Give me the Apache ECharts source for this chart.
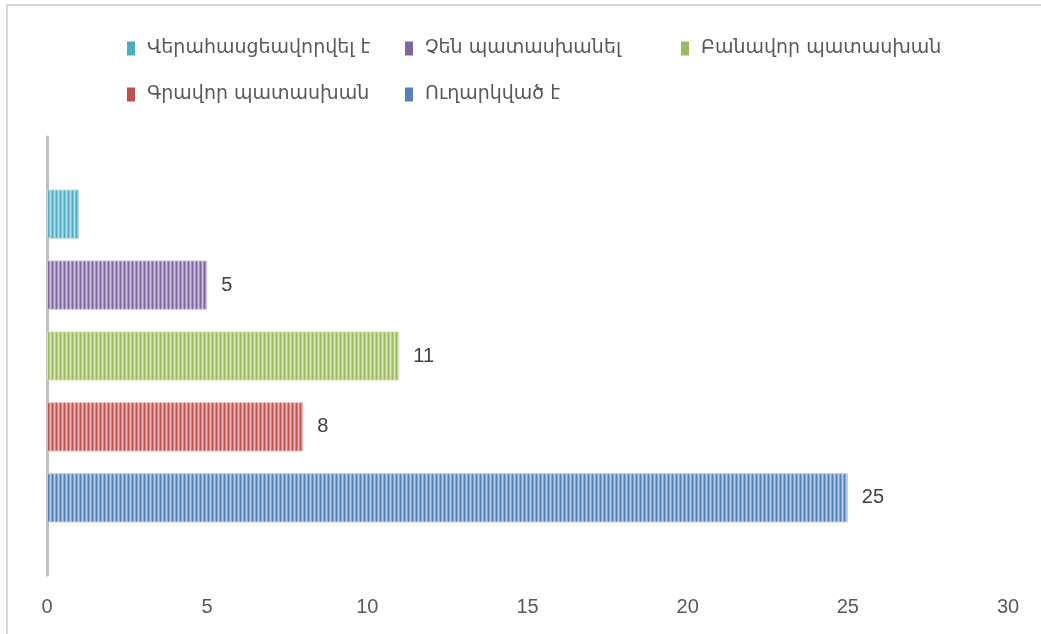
<!DOCTYPE html>
<html>
<head>
<meta charset="utf-8">
<script src="https://cdn.jsdelivr.net/npm/echarts@6/dist/echarts.min.js"></script>
<style>
html,body{margin:0;padding:0;background:#fff;}
#chart{width:1041px;height:634px;}
</style>
</head>
<body>
<div id="chart"></div>
<script>
// ---- data ----
const categories = [''];
const seriesNames = ['Վերահասցեավորվել է', 'Չեն պատասխանել', 'Բանավոր պատասխան', 'Գրավոր պատասխան', 'Ուղարկված է'];
const seriesValues = [1, 5, 11, 8, 25];
const showLabel = [false, true, true, true, true];
const xTicks = [0, 5, 10, 15, 20, 25, 30];

// ---- styles ----
const baseColors = ['#4BACC6', '#8064A2', '#9BBB59', '#C0504D', '#4F81BD'];
const lightColors = ['#B7DEE8', '#CCC1DA', '#D7E4BD', '#E6B9B8', '#B9CDE5'];
const legendPos = [
  {left: 122, top: 34}, {left: 400, top: 34}, {left: 676, top: 34},
  {left: 122, top: 80}, {left: 400, top: 80}
];

function stripePattern(base, light) {
  const c = document.createElement('canvas');
  c.width = 4; c.height = 1;
  const ctx = c.getContext('2d');
  ctx.fillStyle = base; ctx.fillRect(0, 0, 4, 1);
  ctx.fillStyle = light; ctx.fillRect(2, 0, 1, 1);
  ctx.globalAlpha = 0.5; ctx.fillRect(1, 0, 1, 1); ctx.fillRect(3, 0, 1, 1);
  return {image: c, repeat: 'repeat'};
}

const chart = echarts.init(document.getElementById('chart'));
const labelFont = 'Liberation Sans';

const series = seriesNames.map((name, i) => ({
  name: name,
  type: 'bar',
  data: [seriesValues[i]],
  barGap: '44%',
  barCategoryGap: '24%',
  itemStyle: {
    color: stripePattern(baseColors[i], lightColors[i]),
    borderColor: lightColors[i],
    borderWidth: 1
  },
  label: {
    show: showLabel[i],
    position: 'right',
    distance: 14,
    color: '#404040',
    fontFamily: labelFont,
    fontSize: 20
  },
  emphasis: {disabled: true}
}));

const legends = seriesNames.map((n, i) => ({
  data: [n],
  left: legendPos[i].left,
  top: legendPos[i].top,
  itemWidth: 8,
  itemHeight: 14,
  icon: 'rect',
  itemStyle: {color: baseColors[i], borderWidth: 0},
  selectedMode: false,
  textStyle: {
    fontFamily: 'DejaVu Sans',
    fontSize: 19,
    color: '#595959',
    padding: [0, 0, 0, 7]
  }
}));

chart.setOption({
  animation: false,
  backgroundColor: '#fff',
  legend: legends,
  grid: {left: 47, right: 33, top: 137, bottom: 59, containLabel: false},
  xAxis: {
    type: 'value',
    min: xTicks[0],
    max: xTicks[xTicks.length - 1],
    interval: xTicks[1] - xTicks[0],
    axisLine: {show: false},
    axisTick: {show: false},
    splitLine: {show: false},
    axisLabel: {
      margin: 22,
      color: '#595959',
      fontFamily: labelFont,
      fontSize: 20
    }
  },
  yAxis: {
    type: 'category',
    data: categories,
    axisLine: {show: true, lineStyle: {color: '#BFBFBF', width: 3}},
    axisTick: {show: false},
    axisLabel: {show: false},
    splitLine: {show: false}
  },
  graphic: [{
    type: 'rect',
    silent: true,
    shape: {x: 7, y: 5, width: 1100, height: 700},
    style: {fill: 'none', stroke: '#D9D9D9', lineWidth: 2}
  }],
  series: series
});
</script>
</body>
</html>
